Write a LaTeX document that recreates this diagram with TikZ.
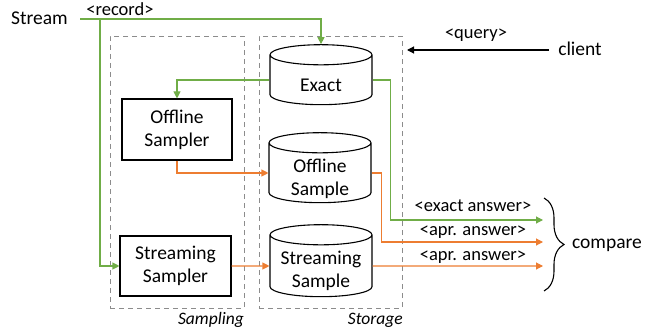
\documentclass[tikz,border=0pt]{standalone}
\usepackage{fontspec}
\setmainfont{Carlito}
\usetikzlibrary{shapes.geometric,arrows.meta,decorations.pathreplacing}
\definecolor{grn}{HTML}{70AD47}
\definecolor{org}{HTML}{ED7D31}
\definecolor{dgray}{HTML}{8C8C8C}
\begin{document}
\begin{tikzpicture}[x=1pt,y=-1pt,
  big/.style={font=\fontsize{19.5}{23}\selectfont},
  lab/.style={font=\fontsize{18.5}{22}\selectfont, inner sep=0pt},
  box/.style={draw, line width=1.1pt, align=center, big, inner sep=0pt},
  db/.style={cylinder, shape border rotate=90, draw, line width=1.1pt, aspect=0.25, big, align=center, inner sep=0pt, minimum width=102pt},
  dbtxt/.style={align=center, big, inner sep=0pt},
  grp/.style={draw=dgray, line width=0.9pt, dash pattern=on 5pt off 4pt},
  tip/.style={-{Triangle[width=7pt,length=7pt]}},
  ga/.style={draw=grn, line width=1.1pt, tip, color=grn},
  oa/.style={draw=org, line width=1.1pt, tip, color=org},
  ka/.style={draw=black, line width=1.1pt, tip}
]
\useasboundingbox (0,0) rectangle (660,334);
% groups
\node[grp, minimum width=134pt, minimum height=272pt, inner sep=0pt] (sampling) at (177,172) {};
\node[grp, minimum width=143pt, minimum height=272pt, inner sep=0pt] (storage) at (330.5,172) {};
\node[lab, anchor=east, font=\fontsize{17.5}{20}\selectfont\itshape] (samplinglab) at (244,320) {Sampling};
\node[lab, anchor=east, font=\fontsize{17.5}{20}\selectfont\itshape] (storagelab) at (403,320) {Storage};
% nodes
\node[big, anchor=east, inner sep=0pt] (stream) at (68,18) {Stream};
\coordinate (s0) at (80,19);
\coordinate (split) at (100,19);
\node[box, minimum width=110pt, minimum height=61pt] (osampler) at (177,129.5) {Offline\\Sampler};
\node[box, minimum width=111pt, minimum height=60pt] (ssampler) at (175.5,266) {Streaming\\Sampler};
\node[db, minimum height=60pt] (exact) at (321,80) {\phantom{Streaming}};
\node[db, minimum height=70pt] (osample) at (320,173) {\phantom{Streaming}};
\node[db, minimum height=72pt] (ssample) at (321,266) {\phantom{Streaming}};
\node[dbtxt] (exacttxt) at ([yshift=-5pt]exact.center) {Exact};
\node[dbtxt] (osampletxt) at ([yshift=-5.5pt]osample.center) {Offline\\Sample};
\node[dbtxt] (ssampletxt) at ([yshift=-4.5pt]ssample.center) {Streaming\\Sample};
\node[big, inner sep=0pt] (client) at (580,49) {client};
\coordinate (qend) at (407,50);
\coordinate (cstart) at (549,50);
\coordinate (t1) at (543,220);
\coordinate (t2) at (543,242);
\coordinate (t3) at (543,266);
% labels
\node[lab] (record) at (120,9) {<record>};
\node[lab] (query) at (476,35) {<query>};
\node[lab] (exans) at (473,206) {<exact answer>};
\node[lab] (apr1) at (473,232) {<apr. answer>};
\node[lab] (apr2) at (473,257) {<apr. answer>};
\node[big, inner sep=0pt] (compare) at (607,245) {compare};
% connectors
\draw[grn, line width=1.1pt] (s0) -- (split);
\draw[ga] (split) -| (exact.north);
\draw[ga] (split) |- (ssampler.west);
\draw[ga] (exact.west) -| (osampler.north);
\draw[oa] (osampler.south) |- (osample.west);
\draw[oa] (ssampler.east) -- (ssample.west);
\draw[ga] (exact.east) -- ++(18,0) |- (t1);
\draw[oa] (osample.east) -- ++(10,0) |- (t2);
\draw[oa] (ssample.east) -- (t3);
\draw[ka] (cstart) -- (qend);
\draw[line width=1.1pt, decorate, decoration={brace, amplitude=20pt}] (544,198) -- (544,291);
\end{tikzpicture}
\end{document}
